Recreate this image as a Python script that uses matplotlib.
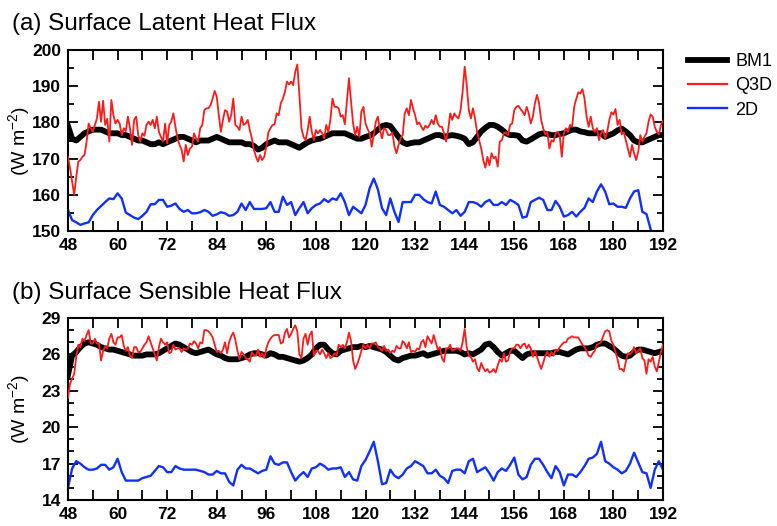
import matplotlib
matplotlib.use("Agg")
import matplotlib.pyplot as plt
import numpy as np
from matplotlib.lines import Line2D
from matplotlib.ticker import MultipleLocator

plt.rcParams["font.family"] = ["Liberation Sans", "DejaVu Sans"]
plt.rcParams["mathtext.fontset"] = "custom"
plt.rcParams["mathtext.rm"] = "Liberation Sans"
plt.rcParams["mathtext.it"] = "Liberation Sans:italic"
plt.rcParams["mathtext.default"] = "rm"

# forecast hour, 48..192 (hourly for BM1 / 2D, half-hourly for Q3D)
hours = np.arange(48, 193)
half_hours = np.arange(48, 192.25, 0.5)

# (a) latent heat flux, W m-2
lh_bm1 = [
    179, 175.5, 175, 176, 177, 177.5, 178, 178, 178, 177.5, 177, 177,
    177, 176.5, 176.5, 176, 175.5, 175, 175, 174.5, 174, 174, 174.5, 174,
    174.5, 175, 175.5, 176, 176, 175.5, 175, 174.5, 175, 175, 175, 175.5,
    176, 175.5, 175, 174.5, 174.5, 174.5, 174.5, 174, 174, 173.5, 172.5, 173,
    174, 174.5, 175, 174.5, 174.5, 174.5, 174, 173.5, 173, 173.8, 174.5, 175,
    175.3, 175.5, 176, 176.5, 177, 177, 177, 177, 176.5, 176, 175.5, 175.5,
    176, 176.3, 177, 178, 179, 179.3, 179, 177.5, 176, 174.5, 174, 174.3,
    174.5, 174.5, 175, 175.5, 176, 176.5, 176.5, 176, 176.3, 176.5, 176.3, 176,
    175.5, 174, 174.5, 176, 177.5, 178.5, 179.3, 179.3, 178.8, 178, 177, 176.5,
    176.5, 176.3, 175, 174.7, 175.3, 176, 176.7, 177, 176.8, 176.5, 176.5, 176.8,
    177, 177.5, 178, 178, 177.5, 177.3, 177, 177, 177, 177, 176, 176.5,
    177, 177.8, 178.3, 177.5, 176.5, 175, 174.5, 174.5, 175, 175.5, 176, 176.5,
    176.5,
]
lh_q3d = [
    # 48 - 96
    170.5, 167.3, 163.6, 160, 165, 169.2, 169.6, 170.5, 171, 174.7,
    179.7, 178.4, 177.4, 179.3, 181.1, 185.7, 180.2, 186, 179.3, 181,
    174.7, 186.2, 182, 179.7, 180.7, 179.7, 176.5, 178.4, 177.6, 181.6,
    178.4, 173.8, 180.7, 181.6, 176.5, 174.7, 177, 176.3, 179.3, 180.2,
    179.3, 180.7, 178.4, 181.6, 177.4, 176, 174.7, 179.7, 174.2, 179.3,
    180.2, 182.5, 178.8, 175.6, 173.8, 172.4, 169.2, 173.8, 171, 172.8,
    173.3, 177, 175.6, 174.7, 178.4, 179.3, 183.4, 183.9, 183.9, 184.8,
    186.6, 188.7, 187.1, 182, 177.4, 180.7, 183.4, 183, 180.2, 182,
    186.6, 179.3, 178.8, 177.9, 181.6, 179.3, 179.7, 180.7, 177.9, 175.6,
    172.4, 170.5, 169.2, 171, 169.6, 170.5, 173.3,
    # 96.5 - 144
    177.3, 178.4, 179.3, 179.5, 182.5, 182, 185.3, 186.5, 188.5, 191.3,
    190.5, 191.3, 190.3, 194, 196, 187.6, 178.4, 176, 175.1, 177.9,
    181.6, 177.4, 175.1, 177.9, 177, 177.9, 177, 175.6, 179.3, 177.4,
    180.7, 186.6, 184.3, 184.3, 183.9, 181.6, 182, 179.5, 185.7, 192.2,
    185.7, 179.7, 176.5, 178.8, 176, 183, 184.3, 179.7, 178.2, 177,
    173.3, 176.5, 180.2, 181.6, 177.9, 175.6, 178.4, 177.9, 176.5, 176.5,
    177.3, 173.3, 171.5, 173.8, 175.6, 176.5, 182.5, 183.9, 182, 186.2,
    183.9, 182, 179.5, 180, 178.8, 177.9, 179.1, 178.5, 179.3, 180.7,
    179.5, 182, 179.7, 178.8, 178.8, 177, 174.7, 177.9, 182.5, 180.7,
    182.5, 181.6, 181.1, 183.4, 188.5, 195.4,
    # 144.5 - 192
    190.3, 183.4, 181.1, 183.9, 181.1, 177.4, 175.1, 172.8, 169.6, 167.5,
    170.5, 168.2, 171.5, 170.1, 170.5, 167.8, 174.7, 175.1, 177, 177.3,
    176.5, 179.3, 179.7, 183.4, 184.3, 184.6, 183.7, 183, 182, 184.3,
    182.5, 179.7, 181.6, 185.3, 187.6, 185.3, 180.7, 178.4, 176.7, 177.4,
    172.8, 175.1, 174.7, 177, 177.4, 176.5, 170.5, 177, 178.4, 177.4,
    179.3, 178.8, 184.3, 186.5, 188.3, 188, 189.2, 186.6, 181.6, 178.8,
    181.6, 178.4, 177.4, 178.4, 175.1, 177, 177.9, 175.6, 177.4, 180.7,
    182.8, 182.2, 183.7, 179.3, 180.7, 176.7, 177.3, 175.1, 172.8, 170.5,
    173.8, 171.5, 169.6, 171.9, 176.5, 174.7, 176, 177, 180.2, 182.2,
    181.6, 178.8, 177.4, 176.7, 179.3, 180.4,
]
lh_2d = [
    155.8, 153, 152.4, 151.7, 152.1, 152.4, 154.4, 155.8, 156.9, 158, 159, 158.8,
    160.4, 159, 155.1, 154.4, 153.7, 153.3, 154.2, 155.3, 157.4, 157.4, 158.6, 158.6,
    156.7, 157, 157.6, 156.1, 155.3, 155.8, 154.9, 154.9, 155.2, 155.8, 155.3, 154.2,
    154.6, 155.2, 154.9, 154.2, 154.4, 155.3, 157.6, 155.8, 158, 156.1, 156.1, 156.1,
    156.3, 158, 155.3, 155.3, 159.5, 157.2, 158, 154.4, 156.3, 158, 154.9, 156.3,
    157.2, 157.6, 158.8, 158, 159, 158.6, 160.4, 158, 154.4, 156.7, 155.8, 154.9,
    157.2, 161.8, 164.5, 161.5, 156.3, 154.4, 159, 155.3, 152.5, 158, 158, 158,
    160, 160, 158.8, 158, 157.6, 160.9, 157.2, 156.7, 155.8, 154.9, 155.8, 154.2,
    155.3, 158, 158, 157.6, 156.7, 158, 158.6, 157.2, 157.2, 158, 157.2, 158.6,
    158, 157.2, 153.7, 154, 158, 158.6, 159.2, 158.6, 155.8, 155.8, 158.3, 156.7,
    154, 154.4, 155.3, 154, 155.3, 156.4, 159, 158, 160.9, 162.9, 160.9, 157.4,
    157.6, 156.7, 156.7, 156.4, 159, 160.9, 161.3, 155.3, 154.7, 150.5, 147, 145,
    144,
]

# (b) sensible heat flux, W m-2
sh_bm1 = [
    24.3, 25.9, 26.2, 26.6, 26.9, 27.0, 26.9, 26.8, 26.6, 26.5, 26.4, 26.4,
    26.3, 26.2, 26.1, 26.0, 25.9, 25.9, 25.9, 26.0, 26.0, 26.0, 26.1, 26.3,
    26.5, 26.7, 26.9, 26.8, 26.6, 26.4, 26.2, 26.1, 26.2, 26.3, 26.4, 26.2,
    26.0, 25.9, 25.7, 25.6, 25.6, 25.6, 25.7, 25.8, 26.0, 26.1, 26.1, 26.0,
    25.9, 26.1, 26.0, 25.8, 25.8, 25.7, 25.6, 25.5, 25.4, 25.5, 25.7, 26.0,
    26.5, 26.8, 26.8, 26.4, 26.1, 26.0, 26.3, 26.4, 26.5, 26.6, 26.6, 26.7,
    26.6, 26.7, 26.6, 26.5, 26.4, 26.2, 25.9, 25.6, 25.5, 25.7, 25.8, 25.9,
    25.9, 26.0, 26.1, 25.9, 26.0, 26.1, 26.2, 26.3, 26.3, 26.3, 26.3, 26.2,
    26.0, 26.1, 26.0, 26.2, 26.4, 26.8, 26.9, 26.6, 26.2, 25.9, 26.1, 26.3,
    26.3, 26.0, 25.7, 26.0, 26.1, 26.1, 26.1, 26.1, 26.1, 26.1, 26.2, 26.2,
    26.1, 26.0, 26.2, 26.4, 26.5, 26.5, 26.5, 26.6, 26.8, 26.9, 26.9, 26.7,
    26.5, 26.2, 25.9, 25.8, 25.9, 26.2, 26.4, 26.4, 26.3, 26.2, 26.1, 26.2,
    26.3,
]
sh_q3d = [
    # 48 - 96
    22.4, 23.6, 24.0, 24.4, 25.8, 26.8, 26.6, 27.3, 27.1, 27.6,
    28.0, 26.9, 26.9, 27.3, 26.9, 26.9, 25.5, 26.3, 26.7, 26.5,
    27.3, 27.7, 27.0, 26.8, 27.4, 27.4, 27.6, 26.7, 26.3, 26.6,
    25.9, 25.7, 26.6, 26.6, 26.2, 26.2, 26.5, 26.8, 27.0, 27.5,
    27.0, 26.5, 26.0, 25.5, 26.6, 27.3, 27.0, 26.8, 27.0, 26.1,
    26.2, 26.8, 26.4, 26.5, 26.5, 26.2, 26.5, 26.4, 26.5, 26.9,
    26.8, 27.1, 26.9, 26.5, 27.0, 26.9, 28.0, 28.0, 27.9, 27.7,
    27.4, 26.8, 26.2, 26.3, 26.1, 26.4, 27.0, 26.1, 27.0, 27.5,
    27.8, 27.2, 26.3, 25.6, 26.2, 26.0, 25.7, 25.6, 25.4, 26.2,
    25.9, 25.9, 26.4, 25.8, 26.1, 25.7, 26.5,
    # 96.5 - 144
    27.0, 27.3, 27.5, 27.6, 27.6, 27.6, 26.9, 27.0, 27.8, 28.1,
    27.4, 27.7, 28.1, 28.4, 27.9, 26.0, 25.7, 27.3, 27.7, 26.8,
    27.6, 27.9, 25.9, 26.3, 26.3, 26.0, 26.4, 26.1, 25.7, 26.1,
    25.7, 25.8, 26.1, 25.9, 26.8, 26.6, 26.8, 26.5, 27.0, 27.8,
    27.1, 25.5, 24.8, 25.2, 25.7, 26.3, 26.8, 26.5, 26.8, 26.5,
    26.9, 26.9, 27.0, 26.6, 26.5, 26.3, 26.7, 26.3, 26.4, 26.1,
    26.3, 26.2, 26.7, 26.5, 26.5, 27.1, 26.9, 26.5, 27.0, 26.2,
    26.3, 26.2, 26.5, 26.4, 27.0, 27.2, 26.6, 27.5, 27.2, 26.9,
    27.6, 27.0, 26.4, 26.6, 25.7, 25.4, 26.5, 26.5, 26.8, 26.3,
    26.4, 26.5, 26.5, 26.3, 27.0, 28.1,
    # 144.5 - 192
    26.6, 25.9, 25.8, 25.4, 25.6, 24.9, 24.6, 25.3, 24.9, 24.6,
    24.8, 24.5, 24.6, 24.8, 24.5, 25.1, 25.6, 25.4, 26.1, 25.4,
    25.5, 26.2, 26.5, 26.5, 26.8, 26.8, 26.5, 26.8, 26.9, 26.5,
    26.8, 26.5, 25.8, 26.3, 25.8, 25.3, 24.8, 25.3, 25.9, 26.2,
    25.8, 26.2, 25.9, 26.4, 26.3, 26.6, 26.8, 27.0, 27.0, 27.3,
    27.4, 27.5, 27.4, 27.4, 27.4, 27.1, 26.8, 26.6, 26.3, 25.9,
    25.8, 26.1, 26.3, 26.8, 26.9, 27.0, 27.5, 27.9, 28.0, 27.9,
    27.1, 26.8, 26.2, 25.6, 24.8, 24.8, 24.6, 25.4, 26.1, 26.0,
    26.2, 26.6, 26.1, 26.3, 26.5, 25.7, 25.5, 24.4, 25.6, 25.4,
    25.8, 25.0, 24.6, 25.4, 26.2, 26.8,
]
sh_2d = [
    15.0, 16.6, 17.2, 17.0, 16.7, 16.5, 16.5, 16.6, 16.9, 16.9, 16.5, 16.7,
    17.4, 16.3, 15.6, 15.6, 15.6, 15.6, 15.8, 15.9, 16.0, 16.4, 16.8, 16.7,
    16.3, 16.3, 16.8, 16.6, 16.5, 16.5, 16.5, 16.5, 16.4, 16.3, 16.1, 16.1,
    16.4, 16.2, 16.2, 15.5, 15.2, 16.5, 16.9, 16.6, 16.6, 16.4, 16.2, 16.4,
    16.5, 17.6, 17.0, 16.9, 17.1, 17.1, 16.3, 15.6, 16.0, 16.3, 15.9, 16.6,
    16.7, 17.0, 16.8, 16.5, 16.6, 16.6, 16.7, 15.9, 16.3, 15.7, 15.6, 16.8,
    17.3, 18.0, 18.8, 17.2, 15.3, 15.4, 16.5, 16.0, 15.8, 16.1, 16.6, 16.8,
    17.2, 17.0, 16.8, 16.2, 16.2, 16.5, 16.0, 15.8, 15.4, 16.4, 16.5, 16.5,
    16.2, 17.2, 17.4, 16.3, 16.5, 16.7, 16.2, 15.6, 16.3, 16.6, 16.4, 16.9,
    17.5, 16.1, 15.7, 15.9, 16.9, 17.4, 17.4, 16.9, 16.3, 15.8, 16.8, 16.3,
    15.2, 16.1, 16.1, 15.9, 16.3, 16.8, 17.4, 17.5, 17.8, 18.8, 17.2, 17.0,
    16.7, 16.5, 16.2, 16.4, 17.0, 17.9, 17.1, 16.3, 16.2, 15.0, 16.5, 17.2,
    16.5,
]

x_ticks = list(range(48, 193, 12))
lh_ticks = [150, 160, 170, 180, 190, 200]
sh_ticks = [14, 17, 20, 23, 26, 29]

RED = "#ff1a1a"
BLUE = "#1030ff"


def style_axis(ax, ylim, yticks, yminor):
    ax.set_xlim(48, 192)
    ax.set_ylim(*ylim)
    ax.set_xticks(x_ticks)
    ax.xaxis.set_minor_locator(MultipleLocator(6))
    ax.set_yticks(yticks)
    ax.yaxis.set_minor_locator(MultipleLocator(yminor))
    ax.tick_params(which="both", direction="in", top=True, right=True, width=1.3)
    ax.tick_params(which="major", length=7, labelsize=12.5, pad=5)
    ax.tick_params(axis="x", which="minor", length=7)
    ax.tick_params(axis="y", which="minor", length=4.5)
    for lab in ax.get_xticklabels() + ax.get_yticklabels():
        lab.set_fontweight("bold")
    for sp in ax.spines.values():
        sp.set_linewidth(1.5)


fig = plt.figure(figsize=(7.77, 5.26), dpi=100)
ax_a = fig.add_axes([0.0875, 0.5608, 0.7658, 0.3441])
ax_b = fig.add_axes([0.0875, 0.0494, 0.7658, 0.3460])

for ax, bm1, q3d, d2 in [
    (ax_a, lh_bm1, lh_q3d, lh_2d),
    (ax_b, sh_bm1, sh_q3d, sh_2d),
]:
    ax.plot(hours, d2, color=BLUE, linewidth=1.7, zorder=2)
    ax.plot(hours, bm1, color="black", linewidth=4.2, zorder=3)
    ax.plot(half_hours, q3d, color=RED, linewidth=1.3, zorder=4)

style_axis(ax_a, (150, 200), lh_ticks, 5)
style_axis(ax_b, (14, 29), sh_ticks, 1)

fig.text(0.015, 0.954, "(a) Surface Latent Heat Flux", fontsize=17.5, va="center", ha="left")
fig.text(0.015, 0.443, "(b) Surface Sensible Heat Flux", fontsize=17.5, va="center", ha="left")
fig.text(0.024, 0.732, "(W m$^{-2}$)", rotation=90, fontsize=14, va="center", ha="center")
fig.text(0.024, 0.222, "(W m$^{-2}$)", rotation=90, fontsize=14, va="center", ha="center")

handles = [
    Line2D([0], [0], color="black", linewidth=4.2, label="BM1"),
    Line2D([0], [0], color=RED, linewidth=1.6, label="Q3D"),
    Line2D([0], [0], color=BLUE, linewidth=1.7, label="2D"),
]
fig.legend(
    handles=handles,
    loc="upper left",
    bbox_to_anchor=(0.885, 0.899),
    frameon=False,
    fontsize=13,
    handlelength=2.2,
    handletextpad=0.45,
    labelspacing=0.4,
    borderpad=0,
    borderaxespad=0,
)

fig.savefig("out.png", dpi=100)
